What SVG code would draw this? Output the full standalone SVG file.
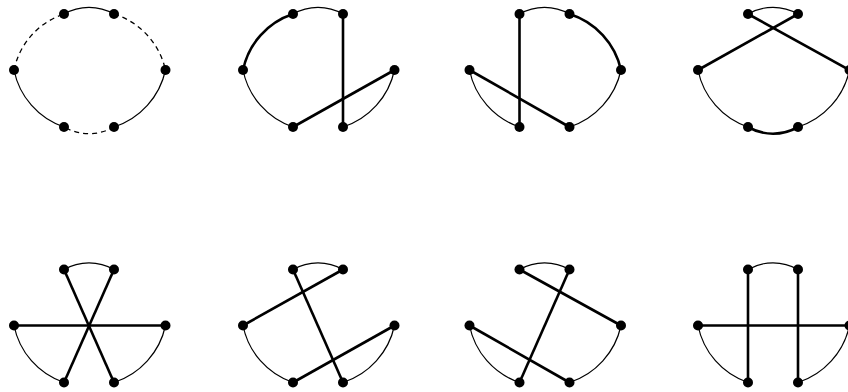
<svg xmlns="http://www.w3.org/2000/svg" width="848" height="392" viewBox="0 0 848 392">
<style>
.thin{fill:none;stroke:#000;stroke-width:1.2}
.dash{fill:none;stroke:#000;stroke-width:1.3;stroke-dasharray:5 4}
.thick{fill:none;stroke:#000;stroke-width:2.6}
.n{fill:#000}
</style>
<defs>
<circle id="dot" r="5" class="n"/>
</defs>
<rect width="848" height="392" fill="#fff"/>

<g id="panel1" transform="translate(0,0)">
<g id="p1-connectors">
<path class="thin" d="M64,14 A50,50 0 0 1 114,14"/>
<path class="dash" d="M114,14 A76,76 0 0 1 165.5,70"/>
<path class="thin" d="M165.5,70 A77,77 0 0 1 114,127"/>
<path class="dash" d="M114,127 A50,50 0 0 1 64,127"/>
<path class="thin" d="M64,127 A76,76 0 0 1 14,70"/>
<path class="dash" d="M14,70 A75,75 0 0 1 64,14"/>
</g>
<g id="p1-n1"><use href="#dot" x="64" y="14"/></g>
<g id="p1-n2"><use href="#dot" x="114" y="14"/></g>
<g id="p1-n3"><use href="#dot" x="165.5" y="70"/></g>
<g id="p1-n4"><use href="#dot" x="114" y="127"/></g>
<g id="p1-n5"><use href="#dot" x="64" y="127"/></g>
<g id="p1-n6"><use href="#dot" x="14" y="70"/></g>
</g>

<g id="panel2" transform="translate(229,0)">
<g id="p2-connectors">
<path class="thin" d="M64,14 A50,50 0 0 1 114,14"/>
<path class="thick" d="M14,70 A75,75 0 0 1 64,14"/>
<path class="thin" d="M64,127 A76,76 0 0 1 14,70"/>
<path class="thin" d="M165.5,70 A77,77 0 0 1 114,127"/>
<path class="thick" d="M114,14 L114,127"/>
<path class="thick" d="M64,127 L165.5,70"/>
</g>
<g id="p2-n1"><use href="#dot" x="64" y="14"/></g>
<g id="p2-n2"><use href="#dot" x="114" y="14"/></g>
<g id="p2-n3"><use href="#dot" x="165.5" y="70"/></g>
<g id="p2-n4"><use href="#dot" x="114" y="127"/></g>
<g id="p2-n5"><use href="#dot" x="64" y="127"/></g>
<g id="p2-n6"><use href="#dot" x="14" y="70"/></g>
</g>

<g id="panel3" transform="translate(455.5,0)">
<g id="p3-connectors">
<path class="thin" d="M64,14 A50,50 0 0 1 114,14"/>
<path class="thick" d="M114,14 A76,76 0 0 1 165.5,70"/>
<path class="thin" d="M165.5,70 A77,77 0 0 1 114,127"/>
<path class="thin" d="M64,127 A76,76 0 0 1 14,70"/>
<path class="thick" d="M64,14 L64,127"/>
<path class="thick" d="M14,70 L114,127"/>
</g>
<g id="p3-n1"><use href="#dot" x="64" y="14"/></g>
<g id="p3-n2"><use href="#dot" x="114" y="14"/></g>
<g id="p3-n3"><use href="#dot" x="165.5" y="70"/></g>
<g id="p3-n4"><use href="#dot" x="114" y="127"/></g>
<g id="p3-n5"><use href="#dot" x="64" y="127"/></g>
<g id="p3-n6"><use href="#dot" x="14" y="70"/></g>
</g>

<g id="panel4" transform="translate(684,0)">
<g id="p4-connectors">
<path class="thin" d="M64,14 A50,50 0 0 1 114,14"/>
<path class="thick" d="M114,127 A50,50 0 0 1 64,127"/>
<path class="thin" d="M64,127 A76,76 0 0 1 14,70"/>
<path class="thin" d="M165.5,70 A77,77 0 0 1 114,127"/>
<path class="thick" d="M14,70 L114,14"/>
<path class="thick" d="M64,14 L165.5,70"/>
</g>
<g id="p4-n1"><use href="#dot" x="64" y="14"/></g>
<g id="p4-n2"><use href="#dot" x="114" y="14"/></g>
<g id="p4-n3"><use href="#dot" x="165.5" y="70"/></g>
<g id="p4-n4"><use href="#dot" x="114" y="127"/></g>
<g id="p4-n5"><use href="#dot" x="64" y="127"/></g>
<g id="p4-n6"><use href="#dot" x="14" y="70"/></g>
</g>

<g id="panel5" transform="translate(0,255.5)">
<g id="p5-connectors">
<path class="thin" d="M64,14 A50,50 0 0 1 114,14"/>
<path class="thin" d="M165.5,70 A77,77 0 0 1 114,127"/>
<path class="thin" d="M64,127 A76,76 0 0 1 14,70"/>
<path class="thick" d="M64,14 L114,127"/>
<path class="thick" d="M114,14 L64,127"/>
<path class="thick" d="M14,70 L165.5,70"/>
</g>
<g id="p5-n1"><use href="#dot" x="64" y="14"/></g>
<g id="p5-n2"><use href="#dot" x="114" y="14"/></g>
<g id="p5-n3"><use href="#dot" x="165.5" y="70"/></g>
<g id="p5-n4"><use href="#dot" x="114" y="127"/></g>
<g id="p5-n5"><use href="#dot" x="64" y="127"/></g>
<g id="p5-n6"><use href="#dot" x="14" y="70"/></g>
</g>

<g id="panel6" transform="translate(229,255.5)">
<g id="p6-connectors">
<path class="thin" d="M64,14 A50,50 0 0 1 114,14"/>
<path class="thin" d="M165.5,70 A77,77 0 0 1 114,127"/>
<path class="thin" d="M64,127 A76,76 0 0 1 14,70"/>
<path class="thick" d="M14,70 L114,14"/>
<path class="thick" d="M64,14 L114,127"/>
<path class="thick" d="M64,127 L165.5,70"/>
</g>
<g id="p6-n1"><use href="#dot" x="64" y="14"/></g>
<g id="p6-n2"><use href="#dot" x="114" y="14"/></g>
<g id="p6-n3"><use href="#dot" x="165.5" y="70"/></g>
<g id="p6-n4"><use href="#dot" x="114" y="127"/></g>
<g id="p6-n5"><use href="#dot" x="64" y="127"/></g>
<g id="p6-n6"><use href="#dot" x="14" y="70"/></g>
</g>

<g id="panel7" transform="translate(455.5,255.5)">
<g id="p7-connectors">
<path class="thin" d="M64,14 A50,50 0 0 1 114,14"/>
<path class="thin" d="M165.5,70 A77,77 0 0 1 114,127"/>
<path class="thin" d="M64,127 A76,76 0 0 1 14,70"/>
<path class="thick" d="M64,14 L165.5,70"/>
<path class="thick" d="M114,14 L64,127"/>
<path class="thick" d="M14,70 L114,127"/>
</g>
<g id="p7-n1"><use href="#dot" x="64" y="14"/></g>
<g id="p7-n2"><use href="#dot" x="114" y="14"/></g>
<g id="p7-n3"><use href="#dot" x="165.5" y="70"/></g>
<g id="p7-n4"><use href="#dot" x="114" y="127"/></g>
<g id="p7-n5"><use href="#dot" x="64" y="127"/></g>
<g id="p7-n6"><use href="#dot" x="14" y="70"/></g>
</g>

<g id="panel8" transform="translate(684,255.5)">
<g id="p8-connectors">
<path class="thin" d="M64,14 A50,50 0 0 1 114,14"/>
<path class="thin" d="M165.5,70 A77,77 0 0 1 114,127"/>
<path class="thin" d="M64,127 A76,76 0 0 1 14,70"/>
<path class="thick" d="M64,14 L64,127"/>
<path class="thick" d="M114,14 L114,127"/>
<path class="thick" d="M14,70 L165.5,70"/>
</g>
<g id="p8-n1"><use href="#dot" x="64" y="14"/></g>
<g id="p8-n2"><use href="#dot" x="114" y="14"/></g>
<g id="p8-n3"><use href="#dot" x="165.5" y="70"/></g>
<g id="p8-n4"><use href="#dot" x="114" y="127"/></g>
<g id="p8-n5"><use href="#dot" x="64" y="127"/></g>
<g id="p8-n6"><use href="#dot" x="14" y="70"/></g>
</g>
</svg>
